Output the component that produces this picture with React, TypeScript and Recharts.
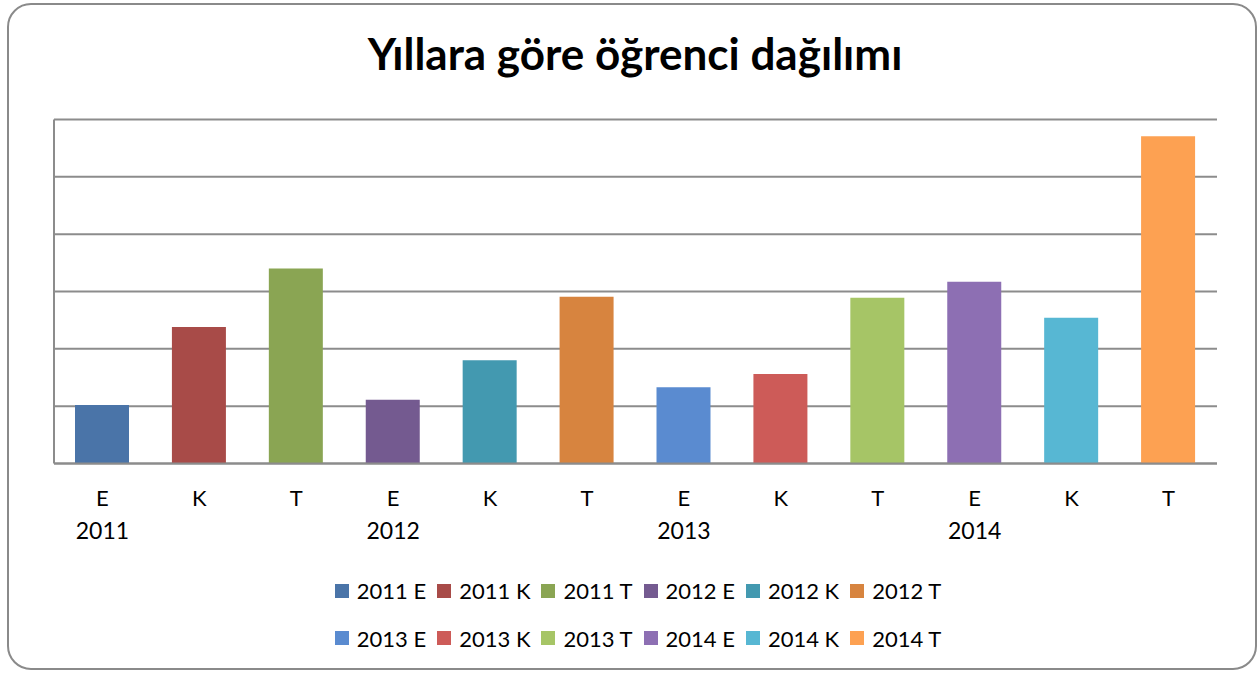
import React from 'react'
import { BarChart, Bar, XAxis, YAxis, CartesianGrid, Cell, Legend } from 'recharts'

const title = 'Yıllara göre öğrenci dağılımı'
const years = ['2011', '2012', '2013', '2014']
const kinds = ['E', 'K', 'T']
const values2011 = [102, 238, 340]
const values2012 = [111, 180, 291]
const values2013 = [133, 156, 289]
const values2014 = [317, 254, 571]
const yTicks = [0, 100, 200, 300, 400, 500, 600]

const colors = [
  '#4A74A8', '#A84B48', '#8AA553',
  '#745A90', '#4399B0', '#D7843F',
  '#5A8BD0', '#CD5B58', '#A6C566',
  '#8D6FB3', '#57B7D3', '#FDA152',
]

const allValues = [values2011, values2012, values2013, values2014]
const data = years.flatMap((year, yi) =>
  kinds.map((kind, ki) => ({ key: `${year} ${kind}`, year, kind, value: allValues[yi][ki] }))
)

const FONT = 'Lato, "Noto Sans", sans-serif'

function CategoryTick(props: any) {
  const { x, y, index } = props
  const item = data[index]
  return (
    <g>
      <text x={x} y={y + 34} textAnchor='middle' fontSize={22} fill='#000' fontFamily={FONT}>{item.kind}</text>
      {item.kind === 'E' && (
        <text x={x} y={y + 67} textAnchor='middle' fontSize={23} fill='#000' fontFamily={FONT}>{item.year}</text>
      )}
    </g>
  )
}

function LegendBox() {
  const rows = [data.slice(0, 6), data.slice(6, 12)]
  return (
    <div style={{ fontFamily: FONT, fontSize: 22, color: '#000', paddingLeft: 12 }}>
      {rows.map((row, ri) => (
        <div key={ri} style={{ display: 'flex', justifyContent: 'center', height: 47.5, alignItems: 'center' }}>
          {row.map((d, i) => (
            <span key={d.key} style={{ display: 'flex', alignItems: 'center', marginRight: i < 5 ? 11 : 0 }}>
              <span style={{ width: 14, height: 14, background: colors[ri * 6 + i], marginRight: 8, display: 'inline-block' }} />
              {d.key}
            </span>
          ))}
        </div>
      ))}
    </div>
  )
}

export default function App() {
  return (
    <div style={{ position: 'absolute', left: 7, top: 3, width: 1250, height: 667 }}>
      <div style={{ position: 'absolute', left: 0, top: 0, width: 1250, height: 667, border: '2px solid #8a8a8a', borderRadius: 24, boxSizing: 'border-box', background: '#fff' }} />
      <div style={{ position: 'absolute', left: 0, top: 0 }}>
        <BarChart width={1250} height={667} data={data} margin={{ top: 116.5, right: 40, left: 0, bottom: 140 }}>
          <text x={628} y={67} textAnchor='middle' fontSize={44} fontWeight={700} fill='#000' fontFamily={FONT}>{title}</text>
          <CartesianGrid vertical={false} stroke='#8c8c8c' strokeWidth={2} />
          <YAxis domain={[0, 600]} ticks={yTicks} width={47} tickLine={false} tickFormatter={() => ''} axisLine={{ stroke: '#8c8c8c', strokeWidth: 2 }} />
          <XAxis dataKey='key' height={66.5} tickLine={false} axisLine={{ stroke: '#8c8c8c', strokeWidth: 2 }} tick={<CategoryTick />} interval={0} />
          <Bar dataKey='value' barSize={54} isAnimationActive={false}>
            {data.map((d, i) => <Cell key={d.key} fill={colors[i]} />)}
          </Bar>
          <Legend layout='horizontal' verticalAlign='middle' align='center' content={<LegendBox />} wrapperStyle={{ top: 564, left: 0, width: 1250 }} />
        </BarChart>
      </div>
    </div>
  )
}
